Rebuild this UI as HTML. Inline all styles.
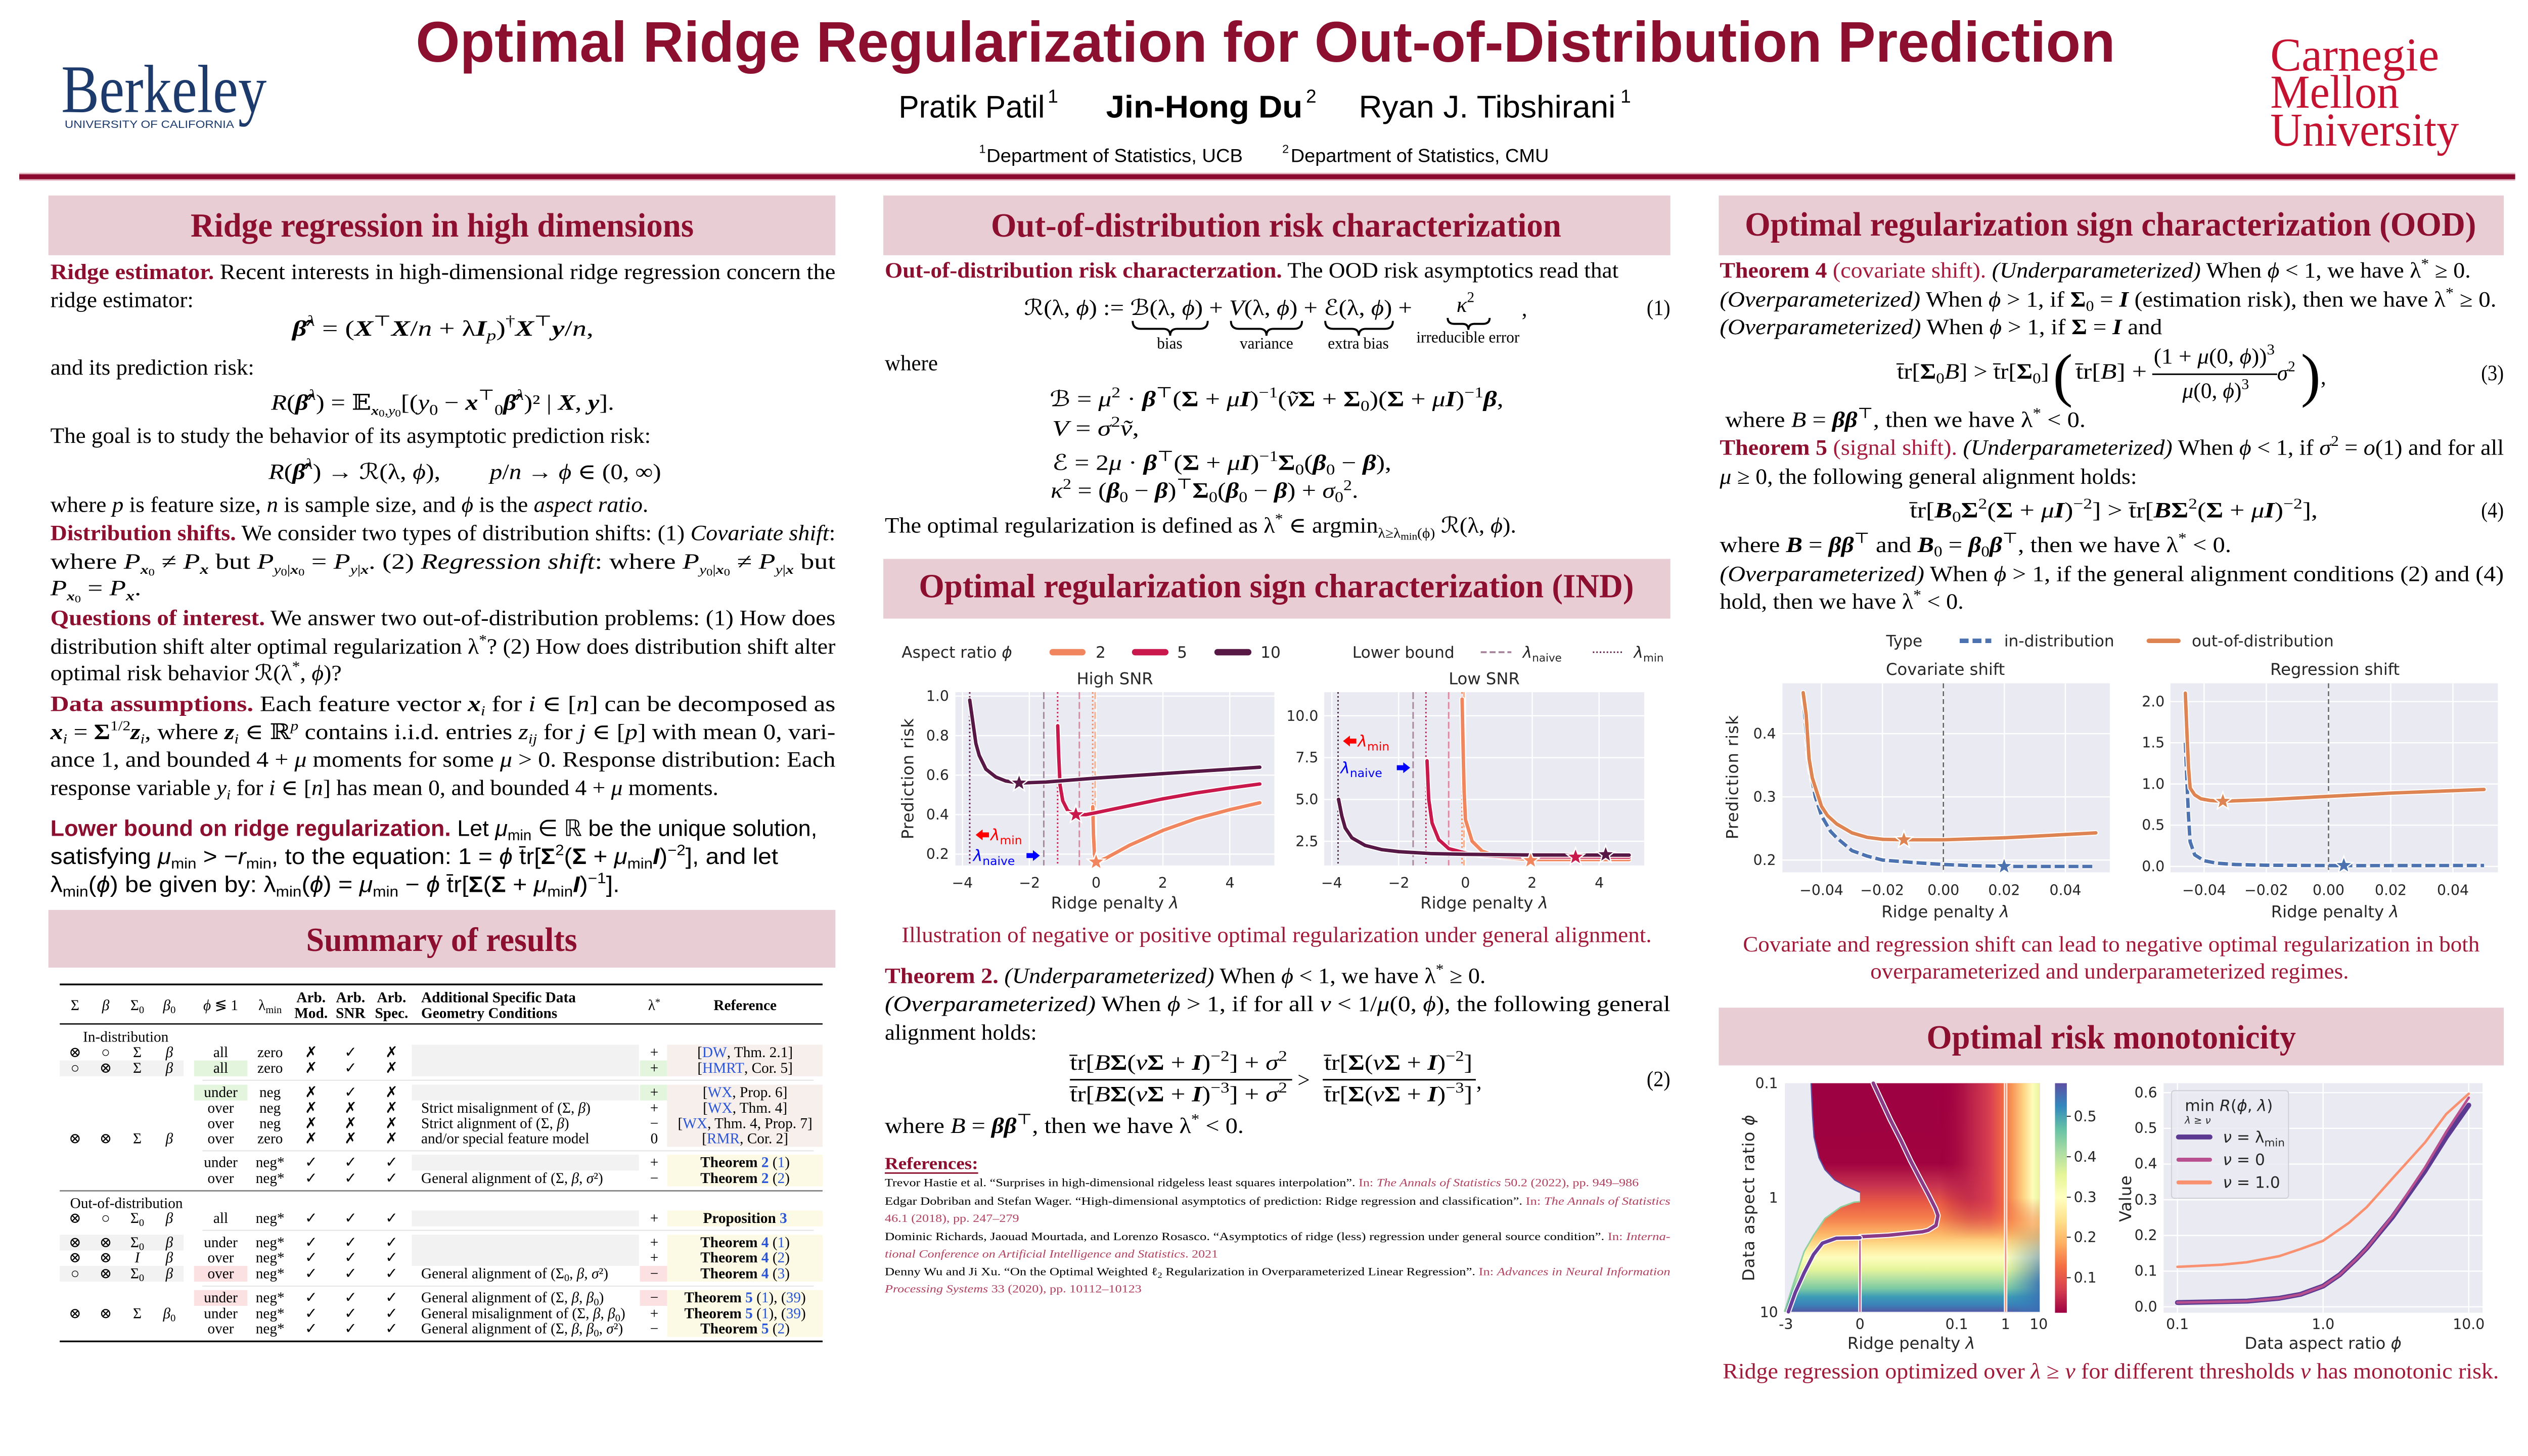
<!DOCTYPE html>
<html><head><meta charset="utf-8">
<style>
html,body{margin:0;padding:0;overflow:hidden;background:#fff;}
svg{display:block;width:100vw;height:56.25vw}
.t{font-family:"Liberation Serif","DejaVu Serif",serif;font-size:44px;fill:#000}
.ss{font-family:"Liberation Sans","DejaVu Sans",sans-serif;font-size:46px;fill:#000}
.dj{font-family:"DejaVu Sans",sans-serif;fill:#262626}
.rb{fill:#8c0f2f;font-weight:bold}
.rd{fill:#a51c3e}
.it{font-style:italic}
.bd{font-weight:bold}
.hd{font-family:"Liberation Serif","DejaVu Serif",serif;font-weight:bold;font-size:68px;fill:#8c0f2f}
.tb{font-family:"Liberation Serif","DejaVu Serif",serif;font-size:30px;fill:#000}
.m{text-anchor:middle}
.e{text-anchor:end}
.bl{fill:#2a55d8}
.rf{font-family:"Liberation Serif","DejaVu Serif",serif;font-size:23px;fill:#000}
.rp{fill:#b2405f}
.cap{font-family:"Liberation Serif","DejaVu Serif",serif;font-size:44px;fill:#a01a3a}
.tk{font-family:"DejaVu Sans",sans-serif;font-size:29px;fill:#262626}
.al{font-family:"DejaVu Sans",sans-serif;font-size:33px;fill:#262626}
</style></head><body>
<svg width="5120" height="2880" viewBox="0 0 5120 2880" preserveAspectRatio="none" xmlns="http://www.w3.org/2000/svg">
<defs>
<linearGradient id="hv" gradientUnits="userSpaceOnUse" x1="0" y1="2194" x2="0" y2="2659">
<stop offset="0" stop-color="#9e0142"/>
<stop offset="0.35" stop-color="#a0033f"/>
<stop offset="0.45" stop-color="#c83550"/>
<stop offset="0.52" stop-color="#e85a45"/>
<stop offset="0.59" stop-color="#f5804c"/>
<stop offset="0.665" stop-color="#fdbd6c"/>
<stop offset="0.72" stop-color="#fee89a"/>
<stop offset="0.76" stop-color="#fdfdbd"/>
<stop offset="0.81" stop-color="#e6f59b"/>
<stop offset="0.85" stop-color="#b5e2a1"/>
<stop offset="0.894" stop-color="#7dcaa4"/>
<stop offset="0.93" stop-color="#3d9cb6"/>
<stop offset="0.965" stop-color="#3a82b9"/>
<stop offset="1" stop-color="#5753a3"/>
</linearGradient>
<linearGradient id="hr" gradientUnits="userSpaceOnUse" x1="3930" y1="0" x2="4131" y2="0">
<stop offset="0" stop-color="#a0033f" stop-opacity="0"/>
<stop offset="0.3" stop-color="#c0284c" stop-opacity="0.8"/>
<stop offset="0.5" stop-color="#d94050"/>
<stop offset="0.64" stop-color="#f46d43"/>
<stop offset="0.73" stop-color="#f89a5a"/>
<stop offset="0.84" stop-color="#fdd585"/>
<stop offset="0.93" stop-color="#fefdba"/>
<stop offset="1" stop-color="#e9f59d"/>
</linearGradient>
<linearGradient id="mk" gradientUnits="userSpaceOnUse" x1="0" y1="2194" x2="0" y2="2659">
<stop offset="0" stop-color="#fff"/>
<stop offset="0.5" stop-color="#fff"/>
<stop offset="0.68" stop-color="#000"/>
</linearGradient>
<mask id="m1" maskUnits="userSpaceOnUse" x="3600" y="2190" width="540" height="480"><rect x="3600" y="2190" width="540" height="480" fill="url(#mk)"/></mask>
<linearGradient id="hb" gradientUnits="userSpaceOnUse" x1="4062" y1="0" x2="4131" y2="0">
<stop offset="0" stop-color="#3288bd" stop-opacity="0"/>
<stop offset="1" stop-color="#3a6fb5" stop-opacity="0.9"/>
</linearGradient>
<linearGradient id="mk2" gradientUnits="userSpaceOnUse" x1="0" y1="2480" x2="0" y2="2600">
<stop offset="0" stop-color="#000"/>
<stop offset="1" stop-color="#fff"/>
</linearGradient>
<mask id="m2" maskUnits="userSpaceOnUse" x="4060" y="2470" width="80" height="200"><rect x="4060" y="2470" width="80" height="200" fill="url(#mk2)"/></mask>
<linearGradient id="cb" gradientUnits="userSpaceOnUse" x1="0" y1="2659" x2="0" y2="2194">
<stop offset="0" stop-color="#9e0142"/>
<stop offset="0.1" stop-color="#d53e4f"/>
<stop offset="0.2" stop-color="#f46d43"/>
<stop offset="0.3" stop-color="#fdae61"/>
<stop offset="0.4" stop-color="#fee08b"/>
<stop offset="0.5" stop-color="#ffffbf"/>
<stop offset="0.6" stop-color="#e6f598"/>
<stop offset="0.7" stop-color="#abdda4"/>
<stop offset="0.8" stop-color="#66c2a5"/>
<stop offset="0.9" stop-color="#3288bd"/>
<stop offset="1" stop-color="#5e4fa2"/>
</linearGradient>
</defs>

<!-- ===== HEADER ===== -->
<text x="842" y="125" font-family="Liberation Sans, DejaVu Sans, sans-serif" font-weight="bold" font-size="116" fill="#8c0f2f" textLength="3442" lengthAdjust="spacingAndGlyphs">Optimal Ridge Regularization for Out-of-Distribution Prediction</text>
<g font-family="Liberation Sans, DejaVu Sans, sans-serif" fill="#000">
<text x="1820" y="238" font-size="64" textLength="296" lengthAdjust="spacingAndGlyphs">Pratik Patil</text>
<text x="2122" y="208" font-size="38">1</text>
<text x="2240" y="238" font-size="64" font-weight="bold" textLength="398" lengthAdjust="spacingAndGlyphs">Jin-Hong Du</text>
<text x="2645" y="208" font-size="38">2</text>
<text x="2752" y="238" font-size="64" textLength="520" lengthAdjust="spacingAndGlyphs">Ryan J. Tibshirani</text>
<text x="3282" y="208" font-size="38">1</text>
<text x="1983" y="310" font-size="24">1</text>
<text x="1998" y="328" font-size="38" textLength="519" lengthAdjust="spacingAndGlyphs">Department of Statistics, UCB</text>
<text x="2597" y="310" font-size="24">2</text>
<text x="2614" y="328" font-size="38" textLength="523" lengthAdjust="spacingAndGlyphs">Department of Statistics, CMU</text>
</g>
<text x="124" y="227" font-family="Liberation Serif, DejaVu Serif, serif" font-size="138" fill="#1c3a6c" textLength="416" lengthAdjust="spacingAndGlyphs">Berkeley</text>
<text x="131" y="259" font-family="Liberation Sans, DejaVu Sans, sans-serif" font-size="22" fill="#1c3a6c" textLength="343" lengthAdjust="spacingAndGlyphs">UNIVERSITY OF CALIFORNIA</text>
<g font-family="Liberation Serif, DejaVu Serif, serif" font-size="96" fill="#c41230">
<text x="4598" y="143" textLength="342" lengthAdjust="spacingAndGlyphs">Carnegie</text>
<text x="4598" y="218" textLength="261" lengthAdjust="spacingAndGlyphs">Mellon</text>
<text x="4598" y="295" textLength="382" lengthAdjust="spacingAndGlyphs">University</text>
</g>
<rect x="39" y="350" width="5055" height="16" fill="#e2b4c0"/>
<rect x="39" y="353" width="5055" height="10" fill="#8a0b2e"/>

<!-- ===== SECTION HEADERS ===== -->
<g fill="#e8cdd5">
<rect x="98" y="396" width="1594" height="121"/>
<rect x="98" y="1843" width="1594" height="117"/>
<rect x="1789" y="396" width="1594" height="121"/>
<rect x="1789" y="1132" width="1594" height="121"/>
<rect x="3481" y="396" width="1590" height="121"/>
<rect x="3481" y="2041" width="1590" height="117"/>
</g>
<text class="hd" x="386" y="479" textLength="1019" lengthAdjust="spacingAndGlyphs">Ridge regression in high dimensions</text>
<text class="hd" x="620" y="1926" textLength="549" lengthAdjust="spacingAndGlyphs">Summary of results</text>
<text class="hd" x="2007" y="479" textLength="1155" lengthAdjust="spacingAndGlyphs">Out-of-distribution risk characterization</text>
<text class="hd" x="1861" y="1210" textLength="1448" lengthAdjust="spacingAndGlyphs">Optimal regularization sign characterization (IND)</text>
<text class="hd" x="3534" y="477" textLength="1481" lengthAdjust="spacingAndGlyphs">Optimal regularization sign characterization (OOD)</text>
<text class="hd" x="3902" y="2124" textLength="748" lengthAdjust="spacingAndGlyphs">Optimal risk monotonicity</text>

<!-- ===== COLUMN 1 ===== -->
<text class="t" x="102" y="565" textLength="1590" lengthAdjust="spacingAndGlyphs"><tspan class="rb">Ridge estimator.</tspan> Recent interests in high-dimensional ridge regression concern the</text>
<text class="t" x="102" y="622" textLength="290" lengthAdjust="spacingAndGlyphs">ridge estimator:</text>
<text class="t" x="592" y="680" textLength="610" lengthAdjust="spacingAndGlyphs"><tspan class="it bd">β̂</tspan><tspan font-size="30" dy="-20" class="it">λ</tspan><tspan dy="20"> = (</tspan><tspan class="it bd">X</tspan><tspan font-size="30" dy="-20">⊤</tspan><tspan dy="20" class="it bd">X</tspan><tspan>/</tspan><tspan class="it">n</tspan><tspan> + λ</tspan><tspan class="it bd">I</tspan><tspan font-size="30" dy="9" class="it">p</tspan><tspan dy="-9">)</tspan><tspan font-size="30" dy="-20">†</tspan><tspan dy="20" class="it bd">X</tspan><tspan font-size="30" dy="-20">⊤</tspan><tspan dy="20" class="it bd">y</tspan><tspan>/</tspan><tspan class="it">n</tspan><tspan>,</tspan></text>
<text class="t" x="102" y="759" textLength="413" lengthAdjust="spacingAndGlyphs">and its prediction risk:</text>
<text class="t" x="549" y="830" textLength="695" lengthAdjust="spacingAndGlyphs"><tspan class="it">R</tspan><tspan>(</tspan><tspan class="it bd">β̂</tspan><tspan font-size="30" dy="-20" class="it">λ</tspan><tspan dy="20">) = 𝔼</tspan><tspan font-size="26" dy="10" class="it bd">x</tspan><tspan font-size="20" dy="4">0</tspan><tspan font-size="26" dy="-4" class="it">,y</tspan><tspan font-size="20" dy="4">0</tspan><tspan dy="-14">[(</tspan><tspan class="it">y</tspan><tspan font-size="30" dy="10">0</tspan><tspan dy="-10"> − </tspan><tspan class="it bd">x</tspan><tspan font-size="30" dy="-20">⊤</tspan><tspan font-size="30" dy="30">0</tspan><tspan dy="-10" class="it bd">β̂</tspan><tspan font-size="30" dy="-20" class="it">λ</tspan><tspan dy="20">)² | </tspan><tspan class="it bd">X</tspan><tspan>, </tspan><tspan class="it bd">y</tspan><tspan>].</tspan></text>
<text class="t" x="102" y="897" textLength="1216" lengthAdjust="spacingAndGlyphs">The goal is to study the behavior of its asymptotic prediction risk:</text>
<text class="t" x="544" y="970" textLength="348" lengthAdjust="spacingAndGlyphs"><tspan class="it">R</tspan><tspan>(</tspan><tspan class="it bd">β̂</tspan><tspan font-size="30" dy="-20" class="it">λ</tspan><tspan dy="20">) → ℛ(λ, </tspan><tspan class="it">ϕ</tspan><tspan>),</tspan></text>
<text class="t" x="992" y="970" textLength="347" lengthAdjust="spacingAndGlyphs"><tspan class="it">p</tspan><tspan>/</tspan><tspan class="it">n</tspan><tspan> → </tspan><tspan class="it">ϕ</tspan><tspan> ∈ (0, ∞)</tspan></text>
<text class="t" x="102" y="1037" textLength="1211" lengthAdjust="spacingAndGlyphs">where <tspan class="it">p</tspan> is feature size, <tspan class="it">n</tspan> is sample size, and <tspan class="it">ϕ</tspan> is the <tspan class="it">aspect ratio</tspan>.</text>
<text class="t" x="102" y="1094" textLength="1590" lengthAdjust="spacingAndGlyphs"><tspan class="rb">Distribution shifts.</tspan> We consider two types of distribution shifts: (1) <tspan class="it">Covariate shift</tspan>:</text>
<text class="t" x="102" y="1152" textLength="1590" lengthAdjust="spacingAndGlyphs">where <tspan class="it">P</tspan><tspan font-size="26" dy="10" class="it bd">x</tspan><tspan font-size="20" dy="4">0</tspan><tspan dy="-14"> ≠ </tspan><tspan class="it">P</tspan><tspan font-size="28" dy="10" class="it bd">x</tspan><tspan dy="-10"> but </tspan><tspan class="it">P</tspan><tspan font-size="26" dy="10" class="it">y</tspan><tspan font-size="20" dy="4">0</tspan><tspan font-size="26" dy="-4">|</tspan><tspan font-size="26" class="it bd">x</tspan><tspan font-size="20" dy="4">0</tspan><tspan dy="-14"> = </tspan><tspan class="it">P</tspan><tspan font-size="26" dy="10" class="it">y</tspan><tspan font-size="26">|</tspan><tspan font-size="26" class="it bd">x</tspan><tspan dy="-10">. (2) </tspan><tspan class="it">Regression shift</tspan><tspan>: where </tspan><tspan class="it">P</tspan><tspan font-size="26" dy="10" class="it">y</tspan><tspan font-size="20" dy="4">0</tspan><tspan font-size="26" dy="-4">|</tspan><tspan font-size="26" class="it bd">x</tspan><tspan font-size="20" dy="4">0</tspan><tspan dy="-14"> ≠ </tspan><tspan class="it">P</tspan><tspan font-size="26" dy="10" class="it">y</tspan><tspan font-size="26">|</tspan><tspan font-size="26" class="it bd">x</tspan><tspan dy="-10"> but</tspan></text>
<text class="t" x="102" y="1206" textLength="184" lengthAdjust="spacingAndGlyphs"><tspan class="it">P</tspan><tspan font-size="26" dy="10" class="it bd">x</tspan><tspan font-size="20" dy="4">0</tspan><tspan dy="-14"> = </tspan><tspan class="it">P</tspan><tspan font-size="28" dy="10" class="it bd">x</tspan><tspan dy="-10">.</tspan></text>
<text class="t" x="102" y="1266" textLength="1590" lengthAdjust="spacingAndGlyphs"><tspan class="rb">Questions of interest.</tspan> We answer two out-of-distribution problems: (1) How does</text>
<text class="t" x="102" y="1324" textLength="1590" lengthAdjust="spacingAndGlyphs">distribution shift alter optimal regularization λ<tspan font-size="30" dy="-18">*</tspan><tspan dy="18">? (2) How does distribution shift alter</tspan></text>
<text class="t" x="102" y="1378" textLength="590" lengthAdjust="spacingAndGlyphs">optimal risk behavior ℛ(λ<tspan font-size="30" dy="-18">*</tspan><tspan dy="18">, </tspan><tspan class="it">ϕ</tspan><tspan>)?</tspan></text>
<text class="t" x="102" y="1440" textLength="1590" lengthAdjust="spacingAndGlyphs"><tspan class="rb">Data assumptions.</tspan> Each feature vector <tspan class="it bd">x</tspan><tspan font-size="28" dy="9" class="it">i</tspan><tspan dy="-9"> for </tspan><tspan class="it">i</tspan><tspan> ∈ [</tspan><tspan class="it">n</tspan><tspan>] can be decomposed as</tspan></text>
<text class="t" x="102" y="1497" textLength="1590" lengthAdjust="spacingAndGlyphs"><tspan class="it bd">x</tspan><tspan font-size="28" dy="9" class="it">i</tspan><tspan dy="-9"> = </tspan><tspan class="bd">Σ</tspan><tspan font-size="28" dy="-18">1/2</tspan><tspan dy="18" class="it bd">z</tspan><tspan font-size="28" dy="9" class="it">i</tspan><tspan dy="-9">, where </tspan><tspan class="it bd">z</tspan><tspan font-size="28" dy="9" class="it">i</tspan><tspan dy="-9"> ∈ ℝ</tspan><tspan font-size="28" dy="-18" class="it">p</tspan><tspan dy="18"> contains i.i.d. entries </tspan><tspan class="it">z</tspan><tspan font-size="28" dy="9" class="it">ij</tspan><tspan dy="-9"> for </tspan><tspan class="it">j</tspan><tspan> ∈ [</tspan><tspan class="it">p</tspan><tspan>] with mean 0, vari-</tspan></text>
<text class="t" x="102" y="1553" textLength="1590" lengthAdjust="spacingAndGlyphs">ance 1, and bounded 4 + <tspan class="it">μ</tspan> moments for some <tspan class="it">μ</tspan> &gt; 0. Response distribution: Each</text>
<text class="t" x="102" y="1610" textLength="1353" lengthAdjust="spacingAndGlyphs">response variable <tspan class="it">y</tspan><tspan font-size="28" dy="9" class="it">i</tspan><tspan dy="-9"> for </tspan><tspan class="it">i</tspan><tspan> ∈ [</tspan><tspan class="it">n</tspan><tspan>] has mean 0, and bounded 4 + </tspan><tspan class="it">μ</tspan><tspan> moments.</tspan></text>
<text class="ss" x="102" y="1693" textLength="1553" lengthAdjust="spacingAndGlyphs"><tspan class="rb">Lower bound on ridge regularization.</tspan> Let <tspan class="it">μ</tspan><tspan font-size="30" dy="9">min</tspan><tspan dy="-9"> ∈ ℝ be the unique solution,</tspan></text>
<text class="ss" x="102" y="1750" textLength="1474" lengthAdjust="spacingAndGlyphs">satisfying <tspan class="it">μ</tspan><tspan font-size="30" dy="9">min</tspan><tspan dy="-9"> &gt; −</tspan><tspan class="it">r</tspan><tspan font-size="30" dy="9">min</tspan><tspan dy="-9">, to the equation: 1 = </tspan><tspan class="it">ϕ</tspan><tspan> t̄r[</tspan><tspan class="bd">Σ</tspan><tspan font-size="30" dy="-18">2</tspan><tspan dy="18">(</tspan><tspan class="bd">Σ</tspan><tspan> + </tspan><tspan class="it">μ</tspan><tspan font-size="30" dy="9">min</tspan><tspan dy="-9" class="it bd">I</tspan><tspan>)</tspan><tspan font-size="30" dy="-18">−2</tspan><tspan dy="18">], and let</tspan></text>
<text class="ss" x="102" y="1807" textLength="1153" lengthAdjust="spacingAndGlyphs">λ<tspan font-size="30" dy="9">min</tspan><tspan dy="-9">(</tspan><tspan class="it">ϕ</tspan><tspan>) be given by: λ</tspan><tspan font-size="30" dy="9">min</tspan><tspan dy="-9">(</tspan><tspan class="it">ϕ</tspan><tspan>) = </tspan><tspan class="it">μ</tspan><tspan font-size="30" dy="9">min</tspan><tspan dy="-9"> − </tspan><tspan class="it">ϕ</tspan><tspan> t̄r[</tspan><tspan class="bd">Σ</tspan><tspan>(</tspan><tspan class="bd">Σ</tspan><tspan> + </tspan><tspan class="it">μ</tspan><tspan font-size="30" dy="9">min</tspan><tspan dy="-9" class="it bd">I</tspan><tspan>)</tspan><tspan font-size="30" dy="-18">−1</tspan><tspan dy="18">].</tspan></text>

<!-- ===== TABLE ===== -->
<g>
<g fill="#f2f2f2">
<rect x="834" y="2116" width="460" height="64"/>
<rect x="834" y="2197" width="460" height="32"/>
<rect x="834" y="2339" width="460" height="32"/>
<rect x="834" y="2452" width="460" height="32"/>
<rect x="834" y="2501" width="460" height="63"/>
<rect x="121" y="2148" width="251" height="32"/>
<rect x="121" y="2501" width="251" height="32"/>
<rect x="121" y="2564" width="251" height="32"/>
</g>
<g fill="#f7efec">
<rect x="1351" y="2116" width="315" height="64"/>
<rect x="1351" y="2197" width="315" height="126"/>
</g>
<g fill="#fcfae4">
<rect x="1351" y="2339" width="315" height="64"/>
<rect x="1351" y="2452" width="315" height="32"/>
<rect x="1351" y="2501" width="315" height="95"/>
<rect x="1351" y="2613" width="315" height="95"/>
</g>
<g fill="#e3f6dd">
<rect x="393" y="2148" width="108" height="32"/>
<rect x="1296" y="2148" width="55" height="32"/>
<rect x="393" y="2197" width="108" height="32"/>
<rect x="1296" y="2197" width="55" height="32"/>
</g>
<g fill="#fbe1e1">
<rect x="393" y="2564" width="108" height="32"/>
<rect x="1296" y="2564" width="55" height="32"/>
<rect x="393" y="2613" width="108" height="32"/>
<rect x="1296" y="2613" width="55" height="32"/>
</g>
<line x1="121" y1="1994" x2="1666" y2="1994" stroke="#000" stroke-width="3.5"/>
<line x1="121" y1="2074" x2="1666" y2="2074" stroke="#000" stroke-width="2.5"/>
<line x1="121" y1="2412" x2="1666" y2="2412" stroke="#888" stroke-width="3"/>
<line x1="121" y1="2717" x2="1666" y2="2717" stroke="#000" stroke-width="3.5"/>
<g stroke="#e2e2e2" stroke-width="2">
<line x1="410" y1="2188" x2="1648" y2="2188"/>
<line x1="410" y1="2331" x2="1648" y2="2331"/>
<line x1="410" y1="2492" x2="1648" y2="2492"/>
<line x1="410" y1="2605" x2="1648" y2="2605"/>
</g>
<g class="tb">
<text class="tb m" x="152" y="2046">Σ</text>
<text class="tb m it" x="214" y="2046">β</text>
<text class="tb m" x="278" y="2046">Σ<tspan font-size="21" dy="6">0</tspan></text>
<text class="tb m it" x="343" y="2046">β<tspan font-size="21" dy="6" font-style="normal">0</tspan></text>
<text class="tb m" x="447" y="2046"><tspan class="it">ϕ</tspan> ≶ 1</text>
<text class="tb m" x="547" y="2046">λ<tspan font-size="21" dy="6">min</tspan></text>
<text class="tb m bd" x="630" y="2030">Arb.</text><text class="tb m bd" x="630" y="2062">Mod.</text>
<text class="tb m bd" x="710" y="2030">Arb.</text><text class="tb m bd" x="710" y="2062">SNR</text>
<text class="tb m bd" x="793" y="2030">Arb.</text><text class="tb m bd" x="793" y="2062">Spec.</text>
<text class="tb bd" x="853" y="2030">Additional Specific Data</text>
<text class="tb bd" x="853" y="2062">Geometry Conditions</text>
<text class="tb m" x="1325" y="2046">λ<tspan font-size="21" dy="-10">*</tspan></text>
<text class="tb m bd" x="1509" y="2046">Reference</text>
</g>
<text class="tb" x="168" y="2110">In-distribution</text>
<text class="tb" x="142" y="2447">Out-of-distribution</text>
<g class="tb">
<text class="tb m" x="152" y="2141">⊗</text><text class="tb m" x="214" y="2141">○</text><text class="tb m" x="278" y="2141">Σ</text><text class="tb m it" x="343" y="2141">β</text>
<text class="tb m" x="447" y="2141">all</text><text class="tb m" x="547" y="2141">zero</text>
<text class="tb m" x="630" y="2141">✗</text><text class="tb m" x="710" y="2141">✓</text><text class="tb m" x="793" y="2141">✗</text>
<text class="tb m" x="1325" y="2141">+</text><text class="tb m" x="1509" y="2141">[<tspan class="bl">DW</tspan>, Thm. 2.1]</text>
<text class="tb m" x="152" y="2173">○</text><text class="tb m" x="214" y="2173">⊗</text><text class="tb m" x="278" y="2173">Σ</text><text class="tb m it" x="343" y="2173">β</text>
<text class="tb m" x="447" y="2173">all</text><text class="tb m" x="547" y="2173">zero</text>
<text class="tb m" x="630" y="2173">✗</text><text class="tb m" x="710" y="2173">✓</text><text class="tb m" x="793" y="2173">✗</text>
<text class="tb m" x="1325" y="2173">+</text><text class="tb m" x="1509" y="2173">[<tspan class="bl">HMRT</tspan>, Cor. 5]</text>
<text class="tb m" x="447" y="2222">under</text><text class="tb m" x="547" y="2222">neg</text>
<text class="tb m" x="630" y="2222">✗</text><text class="tb m" x="710" y="2222">✓</text><text class="tb m" x="793" y="2222">✗</text>
<text class="tb m" x="1325" y="2222">+</text><text class="tb m" x="1509" y="2222">[<tspan class="bl">WX</tspan>, Prop. 6]</text>
<text class="tb m" x="447" y="2254">over</text><text class="tb m" x="547" y="2254">neg</text>
<text class="tb m" x="630" y="2254">✗</text><text class="tb m" x="710" y="2254">✗</text><text class="tb m" x="793" y="2254">✗</text>
<text class="tb" x="853" y="2254">Strict misalignment of (Σ, <tspan class="it">β</tspan>)</text>
<text class="tb m" x="1325" y="2254">+</text><text class="tb m" x="1509" y="2254">[<tspan class="bl">WX</tspan>, Thm. 4]</text>
<text class="tb m" x="447" y="2285">over</text><text class="tb m" x="547" y="2285">neg</text>
<text class="tb m" x="630" y="2285">✗</text><text class="tb m" x="710" y="2285">✗</text><text class="tb m" x="793" y="2285">✗</text>
<text class="tb" x="853" y="2285">Strict alignment of (Σ, <tspan class="it">β</tspan>)</text>
<text class="tb m" x="1325" y="2285">−</text><text class="tb m" x="1509" y="2285">[<tspan class="bl">WX</tspan>, Thm. 4, Prop. 7]</text>
<text class="tb m" x="152" y="2316">⊗</text><text class="tb m" x="214" y="2316">⊗</text><text class="tb m" x="278" y="2316">Σ</text><text class="tb m it" x="343" y="2316">β</text>
<text class="tb m" x="447" y="2316">over</text><text class="tb m" x="547" y="2316">zero</text>
<text class="tb m" x="630" y="2316">✗</text><text class="tb m" x="710" y="2316">✗</text><text class="tb m" x="793" y="2316">✗</text>
<text class="tb" x="853" y="2316">and/or special feature model</text>
<text class="tb m" x="1325" y="2316">0</text><text class="tb m" x="1509" y="2316">[<tspan class="bl">RMR</tspan>, Cor. 2]</text>
<text class="tb m" x="447" y="2364">under</text><text class="tb m" x="547" y="2364">neg*</text>
<text class="tb m" x="630" y="2364">✓</text><text class="tb m" x="710" y="2364">✓</text><text class="tb m" x="793" y="2364">✓</text>
<text class="tb m" x="1325" y="2364">+</text><text class="tb m" x="1509" y="2364"><tspan class="bd">Theorem </tspan><tspan class="bl bd">2</tspan> (<tspan class="bl">1</tspan>)</text>
<text class="tb m" x="447" y="2396">over</text><text class="tb m" x="547" y="2396">neg*</text>
<text class="tb m" x="630" y="2396">✓</text><text class="tb m" x="710" y="2396">✓</text><text class="tb m" x="793" y="2396">✓</text>
<text class="tb" x="853" y="2396">General alignment of (Σ, <tspan class="it">β</tspan>, <tspan class="it">σ</tspan>²)</text>
<text class="tb m" x="1325" y="2396">−</text><text class="tb m" x="1509" y="2396"><tspan class="bd">Theorem </tspan><tspan class="bl bd">2</tspan> (<tspan class="bl">2</tspan>)</text>
<text class="tb m" x="152" y="2477">⊗</text><text class="tb m" x="214" y="2477">○</text><text class="tb m" x="278" y="2477">Σ<tspan font-size="21" dy="6">0</tspan></text><text class="tb m it" x="343" y="2477">β</text>
<text class="tb m" x="447" y="2477">all</text><text class="tb m" x="547" y="2477">neg*</text>
<text class="tb m" x="630" y="2477">✓</text><text class="tb m" x="710" y="2477">✓</text><text class="tb m" x="793" y="2477">✓</text>
<text class="tb m" x="1325" y="2477">+</text><text class="tb m" x="1509" y="2477"><tspan class="bd">Proposition </tspan><tspan class="bl bd">3</tspan></text>
<text class="tb m" x="152" y="2526">⊗</text><text class="tb m" x="214" y="2526">⊗</text><text class="tb m" x="278" y="2526">Σ<tspan font-size="21" dy="6">0</tspan></text><text class="tb m it" x="343" y="2526">β</text>
<text class="tb m" x="447" y="2526">under</text><text class="tb m" x="547" y="2526">neg*</text>
<text class="tb m" x="630" y="2526">✓</text><text class="tb m" x="710" y="2526">✓</text><text class="tb m" x="793" y="2526">✓</text>
<text class="tb m" x="1325" y="2526">+</text><text class="tb m" x="1509" y="2526"><tspan class="bd">Theorem </tspan><tspan class="bl bd">4</tspan> (<tspan class="bl">1</tspan>)</text>
<text class="tb m" x="152" y="2557">⊗</text><text class="tb m" x="214" y="2557">⊗</text><text class="tb m it" x="278" y="2557">I</text><text class="tb m it" x="343" y="2557">β</text>
<text class="tb m" x="447" y="2557">over</text><text class="tb m" x="547" y="2557">neg*</text>
<text class="tb m" x="630" y="2557">✓</text><text class="tb m" x="710" y="2557">✓</text><text class="tb m" x="793" y="2557">✓</text>
<text class="tb m" x="1325" y="2557">+</text><text class="tb m" x="1509" y="2557"><tspan class="bd">Theorem </tspan><tspan class="bl bd">4</tspan> (<tspan class="bl">2</tspan>)</text>
<text class="tb m" x="152" y="2589">○</text><text class="tb m" x="214" y="2589">⊗</text><text class="tb m" x="278" y="2589">Σ<tspan font-size="21" dy="6">0</tspan></text><text class="tb m it" x="343" y="2589">β</text>
<text class="tb m" x="447" y="2589">over</text><text class="tb m" x="547" y="2589">neg*</text>
<text class="tb m" x="630" y="2589">✓</text><text class="tb m" x="710" y="2589">✓</text><text class="tb m" x="793" y="2589">✓</text>
<text class="tb" x="853" y="2589">General alignment of (Σ<tspan font-size="21" dy="6">0</tspan><tspan dy="-6">, </tspan><tspan class="it">β</tspan>, <tspan class="it">σ</tspan>²)</text>
<text class="tb m" x="1325" y="2589">−</text><text class="tb m" x="1509" y="2589"><tspan class="bd">Theorem </tspan><tspan class="bl bd">4</tspan> (<tspan class="bl">3</tspan>)</text>
<text class="tb m" x="447" y="2638">under</text><text class="tb m" x="547" y="2638">neg*</text>
<text class="tb m" x="630" y="2638">✓</text><text class="tb m" x="710" y="2638">✓</text><text class="tb m" x="793" y="2638">✓</text>
<text class="tb" x="853" y="2638">General alignment of (Σ, <tspan class="it">β</tspan>, <tspan class="it">β</tspan><tspan font-size="21" dy="6">0</tspan><tspan dy="-6">)</tspan></text>
<text class="tb m" x="1325" y="2638">−</text><text class="tb m" x="1509" y="2638"><tspan class="bd">Theorem </tspan><tspan class="bl bd">5</tspan> (<tspan class="bl">1</tspan>), (<tspan class="bl">39</tspan>)</text>
<text class="tb m" x="152" y="2670">⊗</text><text class="tb m" x="214" y="2670">⊗</text><text class="tb m" x="278" y="2670">Σ</text><text class="tb m it" x="343" y="2670">β<tspan font-size="21" dy="6" font-style="normal">0</tspan></text>
<text class="tb m" x="447" y="2670">under</text><text class="tb m" x="547" y="2670">neg*</text>
<text class="tb m" x="630" y="2670">✓</text><text class="tb m" x="710" y="2670">✓</text><text class="tb m" x="793" y="2670">✓</text>
<text class="tb" x="853" y="2670">General misalignment of (Σ, <tspan class="it">β</tspan>, <tspan class="it">β</tspan><tspan font-size="21" dy="6">0</tspan><tspan dy="-6">)</tspan></text>
<text class="tb m" x="1325" y="2670">+</text><text class="tb m" x="1509" y="2670"><tspan class="bd">Theorem </tspan><tspan class="bl bd">5</tspan> (<tspan class="bl">1</tspan>), (<tspan class="bl">39</tspan>)</text>
<text class="tb m" x="447" y="2701">over</text><text class="tb m" x="547" y="2701">neg*</text>
<text class="tb m" x="630" y="2701">✓</text><text class="tb m" x="710" y="2701">✓</text><text class="tb m" x="793" y="2701">✓</text>
<text class="tb" x="853" y="2701">General alignment of (Σ, <tspan class="it">β</tspan>, <tspan class="it">β</tspan><tspan font-size="21" dy="6">0</tspan><tspan dy="-6">, </tspan><tspan class="it">σ</tspan>²)</text>
<text class="tb m" x="1325" y="2701">−</text><text class="tb m" x="1509" y="2701"><tspan class="bd">Theorem </tspan><tspan class="bl bd">5</tspan> (<tspan class="bl">2</tspan>)</text>
</g>
</g>

<!-- ===== COLUMN 2 ===== -->
<text class="t" x="1792" y="562" textLength="1486" lengthAdjust="spacingAndGlyphs"><tspan class="rb">Out-of-distribution risk characterzation.</tspan> The OOD risk asymptotics read that</text>
<text class="t" x="2074" y="638" textLength="786" lengthAdjust="spacingAndGlyphs">ℛ(λ, <tspan class="it">ϕ</tspan>) := ℬ(λ, <tspan class="it">ϕ</tspan>) + <tspan class="it">V</tspan>(λ, <tspan class="it">ϕ</tspan>) + ℰ(λ, <tspan class="it">ϕ</tspan>) +</text>
<text class="t" x="2950" y="632"><tspan class="it">κ</tspan><tspan font-size="30" dy="-20">2</tspan></text>
<text class="t" x="3082" y="640">,</text>
<text class="t" x="3335" y="638" textLength="48" lengthAdjust="spacingAndGlyphs">(1)</text>
<g fill="none" stroke="#000" stroke-width="4">
<path d="M2294,650 Q2294,666 2310,666 L2356,666 Q2370,666 2370,680 Q2370,666 2384,666 L2430,666 Q2446,666 2446,650"/>
<path d="M2493,650 Q2493,666 2509,666 L2551,666 Q2565,666 2565,680 Q2565,666 2579,666 L2621,666 Q2637,666 2637,650"/>
<path d="M2684,650 Q2684,666 2700,666 L2738,666 Q2752,666 2752,680 Q2752,666 2766,666 L2805,666 Q2821,666 2821,650"/>
<path d="M2932,644 Q2932,656 2946,656 L2962,656 Q2974,656 2974,668 Q2974,656 2986,656 L3003,656 Q3017,656 3017,644"/>
</g>
<g font-family="Liberation Serif, DejaVu Serif, serif" font-size="32" text-anchor="middle">
<text x="2369" y="706">bias</text>
<text x="2565" y="706">variance</text>
<text x="2751" y="706">extra bias</text>
<text x="2973" y="694">irreducible error</text>
</g>
<text class="t" x="1792" y="750">where</text>
<text class="t" x="2126" y="823" textLength="919" lengthAdjust="spacingAndGlyphs">ℬ = <tspan class="it">μ</tspan><tspan font-size="30" dy="-18">2</tspan><tspan dy="18"> · </tspan><tspan class="it bd">β</tspan><tspan font-size="30" dy="-18">⊤</tspan><tspan dy="18">(</tspan><tspan class="bd">Σ</tspan><tspan> + </tspan><tspan class="it">μ</tspan><tspan class="it bd">I</tspan><tspan>)</tspan><tspan font-size="30" dy="-18">−1</tspan><tspan dy="18">(</tspan><tspan class="it">ṽ</tspan><tspan class="bd">Σ</tspan><tspan> + </tspan><tspan class="bd">Σ</tspan><tspan font-size="30" dy="9">0</tspan><tspan dy="-9">)(</tspan><tspan class="bd">Σ</tspan><tspan> + </tspan><tspan class="it">μ</tspan><tspan class="it bd">I</tspan><tspan>)</tspan><tspan font-size="30" dy="-18">−1</tspan><tspan dy="18" class="it bd">β</tspan><tspan>,</tspan></text>
<text class="t" x="2131" y="882" textLength="176" lengthAdjust="spacingAndGlyphs"><tspan class="it">V</tspan> = <tspan class="it">σ</tspan><tspan font-size="30" dy="-18">2</tspan><tspan dy="18" class="it">ṽ</tspan><tspan>,</tspan></text>
<text class="t" x="2131" y="952" textLength="687" lengthAdjust="spacingAndGlyphs">ℰ = 2<tspan class="it">μ</tspan> · <tspan class="it bd">β</tspan><tspan font-size="30" dy="-18">⊤</tspan><tspan dy="18">(</tspan><tspan class="bd">Σ</tspan><tspan> + </tspan><tspan class="it">μ</tspan><tspan class="it bd">I</tspan><tspan>)</tspan><tspan font-size="30" dy="-18">−1</tspan><tspan dy="18" class="bd">Σ</tspan><tspan font-size="30" dy="9">0</tspan><tspan dy="-9">(</tspan><tspan class="it bd">β</tspan><tspan font-size="30" dy="9">0</tspan><tspan dy="-9"> − </tspan><tspan class="it bd">β</tspan><tspan>),</tspan></text>
<text class="t" x="2128" y="1008" textLength="623" lengthAdjust="spacingAndGlyphs"><tspan class="it">κ</tspan><tspan font-size="30" dy="-18">2</tspan><tspan dy="18"> = (</tspan><tspan class="it bd">β</tspan><tspan font-size="30" dy="9">0</tspan><tspan dy="-9"> − </tspan><tspan class="it bd">β</tspan><tspan>)</tspan><tspan font-size="30" dy="-18">⊤</tspan><tspan dy="18" class="bd">Σ</tspan><tspan font-size="30" dy="9">0</tspan><tspan dy="-9">(</tspan><tspan class="it bd">β</tspan><tspan font-size="30" dy="9">0</tspan><tspan dy="-9"> − </tspan><tspan class="it bd">β</tspan><tspan>) + </tspan><tspan class="it">σ</tspan><tspan font-size="30" dy="9">0</tspan><tspan font-size="30" dy="-24">2</tspan><tspan dy="15">.</tspan></text>
<text class="t" x="1792" y="1079" textLength="1279" lengthAdjust="spacingAndGlyphs">The optimal regularization is defined as λ<tspan font-size="30" dy="-18">*</tspan><tspan dy="18"> ∈ argmin</tspan><tspan font-size="28" dy="10">λ≥λ</tspan><tspan font-size="20" dy="4">min</tspan><tspan font-size="28" dy="-4">(ϕ)</tspan><tspan dy="-10"> ℛ(λ, </tspan><tspan class="it">ϕ</tspan><tspan>).</tspan></text>

<!-- IND chart -->
<g>
<text class="dj" x="1826" y="1332" font-size="32">Aspect ratio <tspan font-style="italic">ϕ</tspan></text>
<line x1="2132" y1="1321" x2="2192" y2="1321" stroke="#f0855e" stroke-width="13" stroke-linecap="round"/>
<text class="dj" x="2219" y="1332" font-size="32">2</text>
<line x1="2299" y1="1321" x2="2360" y2="1321" stroke="#c8184c" stroke-width="13" stroke-linecap="round"/>
<text class="dj" x="2384" y="1332" font-size="32">5</text>
<line x1="2466" y1="1321" x2="2528" y2="1321" stroke="#571846" stroke-width="13" stroke-linecap="round"/>
<text class="dj" x="2553" y="1332" font-size="32">10</text>
<text class="dj" x="2739" y="1332" font-size="32">Lower bound</text>
<line x1="2999" y1="1321" x2="3061" y2="1321" stroke="#a8879f" stroke-width="4" stroke-dasharray="12,6"/>
<text class="dj" x="3084" y="1332" font-size="32" font-style="italic">λ<tspan font-size="22" dy="8" font-style="normal">naive</tspan></text>
<line x1="3226" y1="1321" x2="3288" y2="1321" stroke="#571846" stroke-width="3" stroke-dasharray="3,4"/>
<text class="dj" x="3309" y="1332" font-size="32" font-style="italic">λ<tspan font-size="22" dy="8" font-style="normal">min</tspan></text>
<text class="al m" x="2258" y="1386">High SNR</text>
<text class="al m" x="3006" y="1386">Low SNR</text>
<rect x="1935" y="1402" width="646" height="351" fill="#eaeaf2"/>
<g stroke="#fff" stroke-width="2.5">
<line x1="1949.4" y1="1402" x2="1949.4" y2="1753"/><line x1="2084.7" y1="1402" x2="2084.7" y2="1753"/><line x1="2220" y1="1402" x2="2220" y2="1753"/><line x1="2355.3" y1="1402" x2="2355.3" y2="1753"/><line x1="2490.6" y1="1402" x2="2490.6" y2="1753"/>
<line x1="1935" y1="1410" x2="2581" y2="1410"/><line x1="1935" y1="1490" x2="2581" y2="1490"/><line x1="1935" y1="1570" x2="2581" y2="1570"/><line x1="1935" y1="1650" x2="2581" y2="1650"/><line x1="1935" y1="1730" x2="2581" y2="1730"/>
</g>
<g stroke-width="3">
<line x1="1964" y1="1402" x2="1964" y2="1753" stroke="#571846" stroke-dasharray="3,5"/>
<line x1="2114" y1="1402" x2="2114" y2="1753" stroke="#a8879f" stroke-dasharray="14,6"/>
<line x1="2142" y1="1402" x2="2142" y2="1753" stroke="#c8184c" stroke-dasharray="3,5"/>
<line x1="2186" y1="1402" x2="2186" y2="1753" stroke="#e287a0" stroke-dasharray="14,6"/>
<line x1="2213" y1="1402" x2="2213" y2="1753" stroke="#f0855e" stroke-dasharray="3,5"/>
<line x1="2218" y1="1402" x2="2218" y2="1753" stroke="#f4b090" stroke-dasharray="14,6"/>
</g>
<g fill="none" stroke-linejoin="round" stroke-linecap="round">
<polyline points="2213.2,1634 2214.6,1690 2216.6,1730 2220,1746 2240.3,1738 2287.7,1712 2355.3,1682 2423,1658 2490.6,1640 2551.5,1626" stroke="#fff" stroke-width="11"/>
<polyline points="2213.2,1634 2214.6,1690 2216.6,1730 2220,1746 2240.3,1738 2287.7,1712 2355.3,1682 2423,1658 2490.6,1640 2551.5,1626" stroke="#f0855e" stroke-width="7"/>
<polyline points="2142.2,1470 2144.2,1530 2146.9,1590 2152.4,1622 2162.5,1642 2179.4,1650 2199.7,1650 2220,1646 2287.7,1632 2355.3,1618 2423,1606 2490.6,1596 2551.5,1588" stroke="#fff" stroke-width="11"/>
<polyline points="2142.2,1470 2144.2,1530 2146.9,1590 2152.4,1622 2162.5,1642 2179.4,1650 2199.7,1650 2220,1646 2287.7,1632 2355.3,1618 2423,1606 2490.6,1596 2551.5,1588" stroke="#c8184c" stroke-width="7"/>
<polyline points="1964,1418 1969.7,1458 1976.5,1506 1983.2,1530 1996.8,1558 2017,1574 2037.3,1582 2064.4,1586 2118.5,1584 2220,1576 2355.3,1567 2490.6,1558 2551.5,1554" stroke="#fff" stroke-width="11"/>
<polyline points="1964,1418 1969.7,1458 1976.5,1506 1983.2,1530 1996.8,1558 2017,1574 2037.3,1582 2064.4,1586 2118.5,1584 2220,1576 2355.3,1567 2490.6,1558 2551.5,1554" stroke="#571846" stroke-width="7"/>
</g>
<g stroke="#fff" stroke-width="2.5">
<path transform="translate(2064,1586) scale(1.05)" fill="#571846" d="M0,-18 L4.41,-6.07 L17.12,-5.56 L7.13,2.32 L10.58,14.56 L0,7.5 L-10.58,14.56 L-7.13,2.32 L-17.12,-5.56 L-4.41,-6.07 Z"/>
<path transform="translate(2179,1650) scale(1.05)" fill="#c8184c" d="M0,-18 L4.41,-6.07 L17.12,-5.56 L7.13,2.32 L10.58,14.56 L0,7.5 L-10.58,14.56 L-7.13,2.32 L-17.12,-5.56 L-4.41,-6.07 Z"/>
<path transform="translate(2220,1746) scale(1.05)" fill="#f0855e" d="M0,-18 L4.41,-6.07 L17.12,-5.56 L7.13,2.32 L10.58,14.56 L0,7.5 L-10.58,14.56 L-7.13,2.32 L-17.12,-5.56 L-4.41,-6.07 Z"/>
</g>
<path d="M1976,1691 L1990,1680 L1990,1686 L2003,1686 L2003,1696 L1990,1696 L1990,1702 Z" fill="#ff0000"/>
<text class="dj" x="2006" y="1702" font-size="32" style="fill:#ff0000" font-style="italic">λ<tspan font-size="24" dy="8" font-style="normal">min</tspan></text>
<text class="dj" x="1971" y="1744" font-size="32" style="fill:#0000ff" font-style="italic">λ<tspan font-size="24" dy="8" font-style="normal">naive</tspan></text>
<path d="M2106,1733 L2092,1722 L2092,1728 L2079,1728 L2079,1738 L2092,1738 L2092,1744 Z" fill="#0000ff"/>
<g class="tk">
<text class="tk e" x="1922" y="1420">1.0</text><text class="tk e" x="1922" y="1500">0.8</text><text class="tk e" x="1922" y="1580">0.6</text><text class="tk e" x="1922" y="1660">0.4</text><text class="tk e" x="1922" y="1740">0.2</text>
<text class="tk m" x="1949" y="1798">−4</text><text class="tk m" x="2085" y="1798">−2</text><text class="tk m" x="2220" y="1798">0</text><text class="tk m" x="2355" y="1798">2</text><text class="tk m" x="2491" y="1798">4</text>
</g>
<text class="al m" x="2258" y="1840">Ridge penalty <tspan font-style="italic">λ</tspan></text>
<text class="al" transform="translate(1850,1700) rotate(-90)" x="0" y="0" font-size="34" textLength="245" lengthAdjust="spacing">Prediction risk</text>
<rect x="2682" y="1402" width="648" height="351" fill="#eaeaf2"/>
<g stroke="#fff" stroke-width="2.5">
<line x1="2697.4" y1="1402" x2="2697.4" y2="1753"/><line x1="2832.7" y1="1402" x2="2832.7" y2="1753"/><line x1="2968" y1="1402" x2="2968" y2="1753"/><line x1="3103.3" y1="1402" x2="3103.3" y2="1753"/><line x1="3238.6" y1="1402" x2="3238.6" y2="1753"/>
<line x1="2682" y1="1449.8" x2="3330" y2="1449.8"/><line x1="2682" y1="1534.5" x2="3330" y2="1534.5"/><line x1="2682" y1="1619.3" x2="3330" y2="1619.3"/><line x1="2682" y1="1704" x2="3330" y2="1704"/>
</g>
<g stroke-width="3">
<line x1="2710" y1="1402" x2="2710" y2="1753" stroke="#571846" stroke-dasharray="3,5"/>
<line x1="2862" y1="1402" x2="2862" y2="1753" stroke="#a8879f" stroke-dasharray="14,6"/>
<line x1="2888" y1="1402" x2="2888" y2="1753" stroke="#c8184c" stroke-dasharray="3,5"/>
<line x1="2934" y1="1402" x2="2934" y2="1753" stroke="#e287a0" stroke-dasharray="14,6"/>
<line x1="2961" y1="1402" x2="2961" y2="1753" stroke="#f0855e" stroke-dasharray="3,5"/>
<line x1="2965" y1="1402" x2="2965" y2="1753" stroke="#f4b090" stroke-dasharray="14,6"/>
</g>
<g fill="none" stroke-linejoin="round" stroke-linecap="round">
<polyline points="2961.2,1416 2963.3,1517.6 2965.3,1602 2968,1660 2981.5,1704 3001.8,1724 3035.7,1736 3103.3,1741 3299.5,1741" stroke="#fff" stroke-width="11"/>
<polyline points="2961.2,1416 2963.3,1517.6 2965.3,1602 2968,1660 2981.5,1704 3001.8,1724 3035.7,1736 3103.3,1741 3299.5,1741" stroke="#f0855e" stroke-width="7"/>
<polyline points="2890.2,1541 2893.6,1619 2900.4,1667 2913.9,1700.6 2934.2,1719 2968,1727.7 3001.8,1732.8 3069.5,1735.5 3299.5,1736" stroke="#fff" stroke-width="11"/>
<polyline points="2890.2,1541 2893.6,1619 2900.4,1667 2913.9,1700.6 2934.2,1719 2968,1727.7 3001.8,1732.8 3069.5,1735.5 3299.5,1736" stroke="#c8184c" stroke-width="7"/>
<polyline points="2710.9,1619 2717.7,1653 2724.5,1677 2738,1697 2765,1712.5 2798.9,1721 2832.7,1725 2900.4,1729 2968,1730.4 3103.3,1731.8 3299.5,1732" stroke="#fff" stroke-width="11"/>
<polyline points="2710.9,1619 2717.7,1653 2724.5,1677 2738,1697 2765,1712.5 2798.9,1721 2832.7,1725 2900.4,1729 2968,1730.4 3103.3,1731.8 3299.5,1732" stroke="#571846" stroke-width="7"/>
</g>
<g stroke="#fff" stroke-width="2.5">
<path transform="translate(3100,1743) scale(1.05)" fill="#f0855e" d="M0,-18 L4.41,-6.07 L17.12,-5.56 L7.13,2.32 L10.58,14.56 L0,7.5 L-10.58,14.56 L-7.13,2.32 L-17.12,-5.56 L-4.41,-6.07 Z"/>
<path transform="translate(3191,1736) scale(1.05)" fill="#c8184c" d="M0,-18 L4.41,-6.07 L17.12,-5.56 L7.13,2.32 L10.58,14.56 L0,7.5 L-10.58,14.56 L-7.13,2.32 L-17.12,-5.56 L-4.41,-6.07 Z"/>
<path transform="translate(3252,1731) scale(1.05)" fill="#571846" d="M0,-18 L4.41,-6.07 L17.12,-5.56 L7.13,2.32 L10.58,14.56 L0,7.5 L-10.58,14.56 L-7.13,2.32 L-17.12,-5.56 L-4.41,-6.07 Z"/>
</g>
<path d="M2720,1501 L2734,1490 L2734,1496 L2747,1496 L2747,1506 L2734,1506 L2734,1512 Z" fill="#ff0000"/>
<text class="dj" x="2750" y="1512" font-size="32" style="fill:#ff0000" font-style="italic">λ<tspan font-size="24" dy="8" font-style="normal">min</tspan></text>
<text class="dj" x="2715" y="1566" font-size="32" style="fill:#0000ff" font-style="italic">λ<tspan font-size="24" dy="8" font-style="normal">naive</tspan></text>
<path d="M2856,1555 L2842,1544 L2842,1550 L2829,1550 L2829,1560 L2842,1560 L2842,1566 Z" fill="#0000ff"/>
<g class="tk">
<text class="tk e" x="2670" y="1460">10.0</text><text class="tk e" x="2670" y="1544">7.5</text><text class="tk e" x="2670" y="1629">5.0</text><text class="tk e" x="2670" y="1714">2.5</text>
<text class="tk m" x="2697" y="1798">−4</text><text class="tk m" x="2833" y="1798">−2</text><text class="tk m" x="2968" y="1798">0</text><text class="tk m" x="3103" y="1798">2</text><text class="tk m" x="3239" y="1798">4</text>
</g>
<text class="al m" x="3006" y="1840">Ridge penalty <tspan font-style="italic">λ</tspan></text>
</g>
<text class="cap" x="1826" y="1908" textLength="1519" lengthAdjust="spacingAndGlyphs">Illustration of negative or positive optimal regularization under general alignment.</text>

<!-- Theorem 2 -->
<text class="t" x="1792" y="1991" textLength="1217" lengthAdjust="spacingAndGlyphs"><tspan class="rb">Theorem 2.</tspan> <tspan class="it">(Underparameterized)</tspan> When <tspan class="it">ϕ</tspan> &lt; 1, we have λ<tspan font-size="30" dy="-18">*</tspan><tspan dy="18"> ≥ 0.</tspan></text>
<text class="t" x="1792" y="2048" textLength="1591" lengthAdjust="spacingAndGlyphs"><tspan class="it">(Overparameterized)</tspan> When <tspan class="it">ϕ</tspan> &gt; 1, if for all <tspan class="it">v</tspan> &lt; 1/<tspan class="it">μ</tspan>(0, <tspan class="it">ϕ</tspan>), the following general</text>
<text class="t" x="1792" y="2106" textLength="308" lengthAdjust="spacingAndGlyphs">alignment holds:</text>
<text class="t" x="2167" y="2167" textLength="440" lengthAdjust="spacingAndGlyphs">t̄r[<tspan class="it">B</tspan><tspan class="bd">Σ</tspan><tspan>(</tspan><tspan class="it">v</tspan><tspan class="bd">Σ</tspan><tspan> + </tspan><tspan class="it bd">I</tspan><tspan>)</tspan><tspan font-size="30" dy="-18">−2</tspan><tspan dy="18">] + </tspan><tspan class="it">σ</tspan><tspan font-size="30" dy="-18">2</tspan></text>
<text class="t" x="2167" y="2231" textLength="440" lengthAdjust="spacingAndGlyphs">t̄r[<tspan class="it">B</tspan><tspan class="bd">Σ</tspan><tspan>(</tspan><tspan class="it">v</tspan><tspan class="bd">Σ</tspan><tspan> + </tspan><tspan class="it bd">I</tspan><tspan>)</tspan><tspan font-size="30" dy="-18">−3</tspan><tspan dy="18">] + </tspan><tspan class="it">σ</tspan><tspan font-size="30" dy="-18">2</tspan></text>
<line x1="2167" y1="2187" x2="2617" y2="2187" stroke="#000" stroke-width="3"/>
<text class="t" x="2628" y="2202">&gt;</text>
<text class="t" x="2682" y="2167" textLength="300" lengthAdjust="spacingAndGlyphs">t̄r[<tspan class="bd">Σ</tspan><tspan>(</tspan><tspan class="it">v</tspan><tspan class="bd">Σ</tspan><tspan> + </tspan><tspan class="it bd">I</tspan><tspan>)</tspan><tspan font-size="30" dy="-18">−2</tspan><tspan dy="18">]</tspan></text>
<text class="t" x="2682" y="2231" textLength="300" lengthAdjust="spacingAndGlyphs">t̄r[<tspan class="bd">Σ</tspan><tspan>(</tspan><tspan class="it">v</tspan><tspan class="bd">Σ</tspan><tspan> + </tspan><tspan class="it bd">I</tspan><tspan>)</tspan><tspan font-size="30" dy="-18">−3</tspan><tspan dy="18">]</tspan></text>
<line x1="2679" y1="2187" x2="2989" y2="2187" stroke="#000" stroke-width="3"/>
<text class="t" x="2990" y="2205">,</text>
<text class="t" x="3335" y="2200" textLength="48" lengthAdjust="spacingAndGlyphs">(2)</text>
<text class="t" x="1792" y="2295" textLength="727" lengthAdjust="spacingAndGlyphs">where <tspan class="it">B</tspan> = <tspan class="it bd">ββ</tspan><tspan font-size="30" dy="-18">⊤</tspan><tspan dy="18">, then we have λ</tspan><tspan font-size="30" dy="-18">*</tspan><tspan dy="18"> &lt; 0.</tspan></text>
<text x="1792" y="2368" font-family="Liberation Serif, DejaVu Serif, serif" font-size="35" font-weight="bold" fill="#8c0f2f" textLength="189" lengthAdjust="spacingAndGlyphs">References:</text>
<line x1="1792" y1="2376" x2="1981" y2="2376" stroke="#8c0f2f" stroke-width="3"/>
<g class="rf">
<text class="rf" x="1792" y="2403" textLength="1527" lengthAdjust="spacingAndGlyphs">Trevor Hastie et al. “Surprises in high-dimensional ridgeless least squares interpolation”. <tspan class="rp">In: </tspan><tspan class="rp it">The Annals of Statistics</tspan><tspan class="rp"> 50.2 (2022), pp. 949–986</tspan></text>
<text class="rf" x="1792" y="2440" textLength="1591" lengthAdjust="spacingAndGlyphs">Edgar Dobriban and Stefan Wager. “High-dimensional asymptotics of prediction: Ridge regression and classification”. <tspan class="rp">In: </tspan><tspan class="rp it">The Annals of Statistics</tspan></text>
<text class="rf rp" x="1792" y="2475" textLength="272" lengthAdjust="spacingAndGlyphs" style="fill:#b2405f">46.1 (2018), pp. 247–279</text>
<text class="rf" x="1792" y="2512" textLength="1591" lengthAdjust="spacingAndGlyphs">Dominic Richards, Jaouad Mourtada, and Lorenzo Rosasco. “Asymptotics of ridge (less) regression under general source condition”. <tspan class="rp">In: </tspan><tspan class="rp it">Interna-</tspan></text>
<text class="rf" x="1792" y="2547" textLength="675" lengthAdjust="spacingAndGlyphs" style="fill:#b2405f"><tspan class="it">tional Conference on Artificial Intelligence and Statistics</tspan>. 2021</text>
<text class="rf" x="1792" y="2583" textLength="1591" lengthAdjust="spacingAndGlyphs">Denny Wu and Ji Xu. “On the Optimal Weighted ℓ<tspan font-size="16" dy="5">2</tspan><tspan dy="-5"> Regularization in Overparameterized Linear Regression”. </tspan><tspan class="rp">In: </tspan><tspan class="rp it">Advances in Neural Information</tspan></text>
<text class="rf" x="1792" y="2618" textLength="520" lengthAdjust="spacingAndGlyphs" style="fill:#b2405f"><tspan class="it">Processing Systems</tspan> 33 (2020), pp. 10112–10123</text>
</g>

<!-- ===== COLUMN 3 ===== -->
<text class="t" x="3483" y="562" textLength="1521" lengthAdjust="spacingAndGlyphs"><tspan class="rb">Theorem 4</tspan><tspan class="rd"> (covariate shift).</tspan> <tspan class="it">(Underparameterized)</tspan> When <tspan class="it">ϕ</tspan> &lt; 1, we have λ<tspan font-size="30" dy="-18">*</tspan><tspan dy="18"> ≥ 0.</tspan></text>
<text class="t" x="3483" y="621" textLength="1573" lengthAdjust="spacingAndGlyphs"><tspan class="it">(Overparameterized)</tspan> When <tspan class="it">ϕ</tspan> &gt; 1, if <tspan class="bd">Σ</tspan><tspan font-size="30" dy="9">0</tspan><tspan dy="-9"> = </tspan><tspan class="it bd">I</tspan><tspan> (estimation risk), then we have λ</tspan><tspan font-size="30" dy="-18">*</tspan><tspan dy="18"> ≥ 0.</tspan></text>
<text class="t" x="3483" y="677" textLength="896" lengthAdjust="spacingAndGlyphs"><tspan class="it">(Overparameterized)</tspan> When <tspan class="it">ϕ</tspan> &gt; 1, if <tspan class="bd">Σ</tspan> = <tspan class="it bd">I</tspan> and</text>
<text class="t" x="3842" y="767" textLength="308" lengthAdjust="spacingAndGlyphs">t̄r[<tspan class="bd">Σ</tspan><tspan font-size="30" dy="9">0</tspan><tspan dy="-9" class="it">B</tspan><tspan>] &gt; t̄r[</tspan><tspan class="bd">Σ</tspan><tspan font-size="30" dy="9">0</tspan><tspan dy="-9">]</tspan></text>
<text x="4158" y="800" font-family="Liberation Serif, DejaVu Serif, serif" font-size="120" font-weight="100">(</text>
<text class="t" x="4204" y="767" textLength="144" lengthAdjust="spacingAndGlyphs">t̄r[<tspan class="it">B</tspan>] +</text>
<text class="t" x="4362" y="736" textLength="245" lengthAdjust="spacingAndGlyphs">(1 + <tspan class="it">μ</tspan>(0, <tspan class="it">ϕ</tspan>))<tspan font-size="30" dy="-18">3</tspan></text>
<line x1="4359" y1="758" x2="4612" y2="758" stroke="#000" stroke-width="3"/>
<text class="t" x="4420" y="806" textLength="135" lengthAdjust="spacingAndGlyphs"><tspan class="it">μ</tspan>(0, <tspan class="it">ϕ</tspan>)<tspan font-size="30" dy="-18">3</tspan></text>
<text class="t" x="4612" y="770"><tspan class="it">σ</tspan><tspan font-size="30" dy="-18">2</tspan></text>
<text x="4660" y="800" font-family="Liberation Serif, DejaVu Serif, serif" font-size="120">)</text>
<text class="t" x="4700" y="778">,</text>
<text class="t" x="5025" y="770" textLength="46" lengthAdjust="spacingAndGlyphs">(3)</text>
<text class="t" x="3494" y="865" textLength="730" lengthAdjust="spacingAndGlyphs">where <tspan class="it">B</tspan> = <tspan class="it bd">ββ</tspan><tspan font-size="30" dy="-18">⊤</tspan><tspan dy="18">, then we have λ</tspan><tspan font-size="30" dy="-18">*</tspan><tspan dy="18"> &lt; 0.</tspan></text>
<text class="t" x="3483" y="921" textLength="1588" lengthAdjust="spacingAndGlyphs"><tspan class="rb">Theorem 5</tspan><tspan class="rd"> (signal shift).</tspan> <tspan class="it">(Underparameterized)</tspan> When <tspan class="it">ϕ</tspan> &lt; 1, if <tspan class="it">σ</tspan><tspan font-size="30" dy="-18">2</tspan><tspan dy="18"> = </tspan><tspan class="it">o</tspan><tspan>(1) and for all</tspan></text>
<text class="t" x="3483" y="980" textLength="845" lengthAdjust="spacingAndGlyphs"><tspan class="it">μ</tspan> ≥ 0, the following general alignment holds:</text>
<text class="t" x="3868" y="1048" textLength="826" lengthAdjust="spacingAndGlyphs">t̄r[<tspan class="it bd">B</tspan><tspan font-size="30" dy="9">0</tspan><tspan dy="-9" class="bd">Σ</tspan><tspan font-size="30" dy="-18">2</tspan><tspan dy="18">(</tspan><tspan class="bd">Σ</tspan><tspan> + </tspan><tspan class="it">μ</tspan><tspan class="it bd">I</tspan><tspan>)</tspan><tspan font-size="30" dy="-18">−2</tspan><tspan dy="18">] &gt; t̄r[</tspan><tspan class="it bd">B</tspan><tspan class="bd">Σ</tspan><tspan font-size="30" dy="-18">2</tspan><tspan dy="18">(</tspan><tspan class="bd">Σ</tspan><tspan> + </tspan><tspan class="it">μ</tspan><tspan class="it bd">I</tspan><tspan>)</tspan><tspan font-size="30" dy="-18">−2</tspan><tspan dy="18">],</tspan></text>
<text class="t" x="5025" y="1048" textLength="46" lengthAdjust="spacingAndGlyphs">(4)</text>
<text class="t" x="3483" y="1118" textLength="1036" lengthAdjust="spacingAndGlyphs">where <tspan class="it bd">B</tspan> = <tspan class="it bd">ββ</tspan><tspan font-size="30" dy="-18">⊤</tspan><tspan dy="18"> and </tspan><tspan class="it bd">B</tspan><tspan font-size="30" dy="9">0</tspan><tspan dy="-9"> = </tspan><tspan class="it bd">β</tspan><tspan font-size="30" dy="9">0</tspan><tspan dy="-9" class="it bd">β</tspan><tspan font-size="30" dy="-18">⊤</tspan><tspan dy="18">, then we have λ</tspan><tspan font-size="30" dy="-18">*</tspan><tspan dy="18"> &lt; 0.</tspan></text>
<text class="t" x="3483" y="1177" textLength="1588" lengthAdjust="spacingAndGlyphs"><tspan class="it">(Overparameterized)</tspan> When <tspan class="it">ϕ</tspan> &gt; 1, if the general alignment conditions (2) and (4)</text>
<text class="t" x="3483" y="1233" textLength="494" lengthAdjust="spacingAndGlyphs">hold, then we have λ<tspan font-size="30" dy="-18">*</tspan><tspan dy="18"> &lt; 0.</tspan></text>

<!-- OOD chart -->
<g>
<text class="dj" x="3820" y="1309" font-size="32">Type</text>
<line x1="3969" y1="1298" x2="4033" y2="1298" stroke="#4c72b0" stroke-width="9" stroke-dasharray="18,8"/>
<text class="dj" x="4059" y="1309" font-size="32">in-distribution</text>
<line x1="4352" y1="1298" x2="4412" y2="1298" stroke="#dd8452" stroke-width="9" stroke-linecap="round"/>
<text class="dj" x="4439" y="1309" font-size="32">out-of-distribution</text>
<text class="al m" x="3940" y="1367">Covariate shift</text>
<text class="al m" x="4729" y="1367">Regression shift</text>
<rect x="3610" y="1384" width="663" height="383" fill="#eaeaf2"/>
<rect x="4396" y="1384" width="663" height="383" fill="#eaeaf2"/>
<g stroke="#fff" stroke-width="2.5">
<line x1="3689" y1="1384" x2="3689" y2="1767"/><line x1="3812.5" y1="1384" x2="3812.5" y2="1767"/><line x1="3936" y1="1384" x2="3936" y2="1767"/><line x1="4059.5" y1="1384" x2="4059.5" y2="1767"/><line x1="4183" y1="1384" x2="4183" y2="1767"/>
<line x1="3610" y1="1486" x2="4273" y2="1486"/><line x1="3610" y1="1614" x2="4273" y2="1614"/><line x1="3610" y1="1742" x2="4273" y2="1742"/>
<line x1="4464" y1="1384" x2="4464" y2="1767"/><line x1="4590" y1="1384" x2="4590" y2="1767"/><line x1="4716" y1="1384" x2="4716" y2="1767"/><line x1="4842" y1="1384" x2="4842" y2="1767"/><line x1="4968" y1="1384" x2="4968" y2="1767"/>
<line x1="4396" y1="1421" x2="5059" y2="1421"/><line x1="4396" y1="1504.5" x2="5059" y2="1504.5"/><line x1="4396" y1="1588" x2="5059" y2="1588"/><line x1="4396" y1="1671.5" x2="5059" y2="1671.5"/><line x1="4396" y1="1755" x2="5059" y2="1755"/>
</g>
<line x1="3936" y1="1384" x2="3936" y2="1767" stroke="#606060" stroke-width="2.5" stroke-dasharray="10,6"/>
<line x1="4716" y1="1384" x2="4716" y2="1767" stroke="#606060" stroke-width="2.5" stroke-dasharray="10,6"/>
<g fill="none" stroke-linejoin="round">
<polyline points="3652,1409 3658,1486 3664,1550 3676.6,1614 3689,1652 3707.5,1684 3720,1697 3750.8,1723 3781.6,1734 3812.5,1742 3874,1747 3936,1751 3997.8,1753.5 4059.5,1755 4244.8,1755" stroke="#fff" stroke-width="11" stroke-dasharray="20,8"/>
<polyline points="3652,1409 3658,1486 3664,1550 3676.6,1614 3689,1652 3707.5,1684 3720,1697 3750.8,1723 3781.6,1734 3812.5,1742 3874,1747 3936,1751 3997.8,1753.5 4059.5,1755 4244.8,1755" stroke="#4c72b0" stroke-width="7" stroke-dasharray="20,8"/>
<polyline points="3652,1403 3658,1447.6 3664,1537 3670.5,1575.6 3676.6,1594.8 3689,1633 3701.3,1652 3720,1669 3750.8,1687 3781.6,1696 3812.5,1700 3855.7,1701 3936,1701 4059.5,1697 4244.8,1687" stroke="#fff" stroke-width="11" stroke-linecap="round"/>
<polyline points="3652,1403 3658,1447.6 3664,1537 3670.5,1575.6 3676.6,1594.8 3689,1633 3701.3,1652 3720,1669 3750.8,1687 3781.6,1696 3812.5,1700 3855.7,1701 3936,1701 4059.5,1697 4244.8,1687" stroke="#dd8452" stroke-width="7" stroke-linecap="round"/>
<polyline points="4426,1504.5 4429.4,1588 4432.5,1654.8 4435.7,1705 4445,1731.6 4464,1743.3 4489,1748.3 4527,1751 4590,1752.5 4747.5,1753.3 5031,1753" stroke="#fff" stroke-width="11" stroke-dasharray="20,8"/>
<polyline points="4426,1504.5 4429.4,1588 4432.5,1654.8 4435.7,1705 4445,1731.6 4464,1743.3 4489,1748.3 4527,1751 4590,1752.5 4747.5,1753.3 5031,1753" stroke="#4c72b0" stroke-width="7" stroke-dasharray="20,8"/>
<polyline points="4426,1404 4429.4,1488 4432.5,1555 4435.7,1596 4445,1610 4457.7,1618 4476.6,1621.4 4501.8,1623 4590,1619.7 4716,1613 4842,1606.4 5031,1599" stroke="#fff" stroke-width="11" stroke-linecap="round"/>
<polyline points="4426,1404 4429.4,1488 4432.5,1555 4435.7,1596 4445,1610 4457.7,1618 4476.6,1621.4 4501.8,1623 4590,1619.7 4716,1613 4842,1606.4 5031,1599" stroke="#dd8452" stroke-width="7" stroke-linecap="round"/>
</g>
<g stroke="#fff" stroke-width="2.5">
<path transform="translate(3856,1701) scale(1.05)" fill="#dd8452" d="M0,-18 L4.41,-6.07 L17.12,-5.56 L7.13,2.32 L10.58,14.56 L0,7.5 L-10.58,14.56 L-7.13,2.32 L-17.12,-5.56 L-4.41,-6.07 Z"/>
<path transform="translate(4059,1755) scale(1.05)" fill="#4c72b0" d="M0,-18 L4.41,-6.07 L17.12,-5.56 L7.13,2.32 L10.58,14.56 L0,7.5 L-10.58,14.56 L-7.13,2.32 L-17.12,-5.56 L-4.41,-6.07 Z"/>
<path transform="translate(4502,1623) scale(1.05)" fill="#dd8452" d="M0,-18 L4.41,-6.07 L17.12,-5.56 L7.13,2.32 L10.58,14.56 L0,7.5 L-10.58,14.56 L-7.13,2.32 L-17.12,-5.56 L-4.41,-6.07 Z"/>
<path transform="translate(4747,1753) scale(1.05)" fill="#4c72b0" d="M0,-18 L4.41,-6.07 L17.12,-5.56 L7.13,2.32 L10.58,14.56 L0,7.5 L-10.58,14.56 L-7.13,2.32 L-17.12,-5.56 L-4.41,-6.07 Z"/>
</g>
<g class="tk">
<text class="tk e" x="3597" y="1496">0.4</text><text class="tk e" x="3597" y="1624">0.3</text><text class="tk e" x="3597" y="1752">0.2</text>
<text class="tk m" x="3689" y="1813">−0.04</text><text class="tk m" x="3812" y="1813">−0.02</text><text class="tk m" x="3936" y="1813">0.00</text><text class="tk m" x="4059" y="1813">0.02</text><text class="tk m" x="4183" y="1813">0.04</text>
<text class="tk e" x="4384" y="1431">2.0</text><text class="tk e" x="4384" y="1514">1.5</text><text class="tk e" x="4384" y="1598">1.0</text><text class="tk e" x="4384" y="1681">0.5</text><text class="tk e" x="4384" y="1765">0.0</text>
<text class="tk m" x="4464" y="1813">−0.04</text><text class="tk m" x="4590" y="1813">−0.02</text><text class="tk m" x="4716" y="1813">0.00</text><text class="tk m" x="4842" y="1813">0.02</text><text class="tk m" x="4968" y="1813">0.04</text>
</g>
<text class="al m" x="3940" y="1858">Ridge penalty <tspan font-style="italic">λ</tspan></text>
<text class="al m" x="4729" y="1858">Ridge penalty <tspan font-style="italic">λ</tspan></text>
<text class="al" transform="translate(3520,1700) rotate(-90)" x="0" y="0" font-size="34" textLength="251" lengthAdjust="spacing">Prediction risk</text>
</g>
<text class="cap" x="3530" y="1927" textLength="1492" lengthAdjust="spacingAndGlyphs">Covariate and regression shift can lead to negative optimal regularization in both</text>
<text class="cap" x="3788" y="1982" textLength="969" lengthAdjust="spacingAndGlyphs">overparameterized and underparameterized regimes.</text>

<!-- Monotonicity: heatmap -->
<g>
<rect x="3615" y="2194" width="516" height="465" fill="#eaeaf2"/>
<path d="M3668,2194 L3671,2260 L3674,2303 L3684,2345 L3696,2369 L3716,2390 L3737,2402 L3767,2415 L3767,2434 L3755,2435 L3728,2445 L3696,2468 L3673,2502 L3654,2535 L3632,2601 L3614,2657 L4131,2657 L4131,2194 Z" fill="url(#hv)"/>
<rect x="3930" y="2194" width="201" height="463" fill="url(#hr)" mask="url(#m1)"/>
<rect x="4062" y="2470" width="69" height="187" fill="url(#hb)" mask="url(#m2)"/>
<path d="M3668,2194 L3671,2260 L3674,2303 L3684,2345 L3696,2369 L3716,2390 L3737,2402 L3767,2415" fill="none" stroke="#5e4fa2" stroke-width="2.5"/>
<path d="M3767,2434 L3755,2435 L3728,2445 L3696,2468 L3673,2502 L3654,2535 L3632,2601 L3614,2657" fill="none" stroke="#8fd0a0" stroke-width="3"/>
<line x1="4062" y1="2194" x2="4062" y2="2657" stroke="#fff" stroke-width="7"/>
<line x1="4062" y1="2194" x2="4062" y2="2657" stroke="#f99170" stroke-width="3"/>
<line x1="3767" y1="2506" x2="3767" y2="2657" stroke="#fff" stroke-width="7"/>
<line x1="3767" y1="2506" x2="3767" y2="2657" stroke="#c0508f" stroke-width="3"/>
<g fill="none" stroke-linejoin="round" stroke-linecap="round">
<polyline points="3794,2194 3829,2269 3850,2310 3870,2352 3890,2390 3907,2422 3920,2448 3925,2462 3921,2482 3905,2492 3893,2495 3824,2502 3767,2505" stroke="#fff" stroke-width="11"/>
<polyline points="3794,2194 3829,2269 3850,2310 3870,2352 3890,2390 3907,2422 3920,2448 3925,2462 3921,2482 3905,2492 3893,2495 3824,2502 3767,2505" stroke="#8a3a86" stroke-width="7"/>
<polyline points="3767,2507 3719,2508 3691,2518 3673,2541 3654,2578 3636,2618 3622,2657" stroke="#fff" stroke-width="11"/>
<polyline points="3767,2507 3719,2508 3691,2518 3673,2541 3654,2578 3636,2618 3622,2657" stroke="#6a3d9a" stroke-width="7"/>
</g>
<rect x="4162" y="2194" width="24" height="465" fill="url(#cb)"/>
<g stroke="#262626" stroke-width="2">
<line x1="4186" y1="2261" x2="4194" y2="2261"/><line x1="4186" y1="2343" x2="4194" y2="2343"/><line x1="4186" y1="2425" x2="4194" y2="2425"/><line x1="4186" y1="2506" x2="4194" y2="2506"/><line x1="4186" y1="2588" x2="4194" y2="2588"/>
</g>
<g class="tk">
<text class="tk" x="4200" y="2271" font-size="27">0.5</text><text class="tk" x="4200" y="2353" font-size="27">0.4</text><text class="tk" x="4200" y="2435" font-size="27">0.3</text><text class="tk" x="4200" y="2516" font-size="27">0.2</text><text class="tk" x="4200" y="2598" font-size="27">0.1</text>
<text class="tk e" x="3601" y="2204" font-size="27">0.1</text><text class="tk e" x="3601" y="2436" font-size="27">1</text><text class="tk e" x="3601" y="2668" font-size="27">10</text>
<text class="tk m" x="3617" y="2692" font-size="27">-3</text><text class="tk m" x="3767" y="2692" font-size="27">0</text><text class="tk m" x="3963" y="2692" font-size="27">0.1</text><text class="tk m" x="4062" y="2692" font-size="27">1</text><text class="tk m" x="4129" y="2692" font-size="27">10</text>
</g>
<text class="al m" x="3871" y="2732">Ridge penalty <tspan font-style="italic">λ</tspan></text>
<text class="al" transform="translate(3553,2595) rotate(-90)" x="0" y="0" font-size="34" textLength="337" lengthAdjust="spacing">Data aspect ratio <tspan font-style="italic">ϕ</tspan></text>
</g>
<!-- Monotonicity: line plot -->
<g>
<rect x="4382" y="2194" width="646" height="465" fill="#eaeaf2"/>
<g stroke="#fff" stroke-width="2.5">
<line x1="4410" y1="2194" x2="4410" y2="2659"/><line x1="4705" y1="2194" x2="4705" y2="2659"/><line x1="5000" y1="2194" x2="5000" y2="2659"/>
<line x1="4382" y1="2647" x2="5028" y2="2647"/><line x1="4382" y1="2574.7" x2="5028" y2="2574.7"/><line x1="4382" y1="2502.4" x2="5028" y2="2502.4"/><line x1="4382" y1="2430.1" x2="5028" y2="2430.1"/><line x1="4382" y1="2357.8" x2="5028" y2="2357.8"/><line x1="4382" y1="2285.5" x2="5028" y2="2285.5"/><line x1="4382" y1="2213.2" x2="5028" y2="2213.2"/>
</g>
<g fill="none" stroke-linejoin="round" stroke-linecap="round">
<polyline points="4410,2638.3 4550.8,2635.4 4616.2,2629.6 4659.3,2621.7 4705,2605 4738.6,2582 4773,2549.4 4793.8,2527.7 4845.7,2465 4911.2,2372 4954.3,2303.6 5000,2238.5" stroke="#5c3a92" stroke-width="10"/>
<polyline points="4410,2638.3 4550.8,2635.4 4616.2,2629.6 4659.3,2621.7 4705,2605 4738.6,2582 4773,2549.4 4793.8,2527.7 4845.7,2462.6 4911.2,2365 4954.3,2292.7 5000,2223.3" stroke="#b84f8f" stroke-width="5"/>
<polyline points="4410,2566 4498.8,2561.7 4550.8,2556.6 4616.2,2544.3 4659.3,2529.9 4705,2513.2 4757,2477.1 4793.8,2444.6 4845.7,2386.7 4911.2,2314.4 4954.3,2256.6 5000,2215.4" stroke="#f99170" stroke-width="5"/>
</g>
<rect x="4398" y="2209" width="237" height="218" rx="6" fill="#eaeaf2" fill-opacity="0.85" stroke="#cfcfd8" stroke-width="2"/>
<text class="dj" x="4425" y="2250" font-size="32">min <tspan font-style="italic">R</tspan>(<tspan font-style="italic">ϕ</tspan>, <tspan font-style="italic">λ</tspan>)</text>
<text class="dj" x="4425" y="2276" font-size="20" font-style="italic">λ ≥ ν</text>
<line x1="4412" y1="2303" x2="4476" y2="2303" stroke="#5c3a92" stroke-width="10" stroke-linecap="round"/>
<text class="dj" x="4502" y="2314" font-size="32" font-style="italic">ν<tspan font-style="normal"> = λ</tspan><tspan font-size="22" dy="8" font-style="normal">min</tspan></text>
<line x1="4412" y1="2349" x2="4476" y2="2349" stroke="#b84f8f" stroke-width="8" stroke-linecap="round"/>
<text class="dj" x="4502" y="2360" font-size="32" font-style="italic">ν<tspan font-style="normal"> = 0</tspan></text>
<line x1="4412" y1="2395" x2="4476" y2="2395" stroke="#f99170" stroke-width="8" stroke-linecap="round"/>
<text class="dj" x="4502" y="2406" font-size="32" font-style="italic">ν<tspan font-style="normal"> = 1.0</tspan></text>
<g class="tk">
<text class="tk e" x="4369" y="2223" font-size="27">0.6</text><text class="tk e" x="4369" y="2295" font-size="27">0.5</text><text class="tk e" x="4369" y="2367" font-size="27">0.4</text><text class="tk e" x="4369" y="2440" font-size="27">0.3</text><text class="tk e" x="4369" y="2512" font-size="27">0.2</text><text class="tk e" x="4369" y="2584" font-size="27">0.1</text><text class="tk e" x="4369" y="2657" font-size="27">0.0</text>
<text class="tk m" x="4410" y="2692" font-size="27">0.1</text><text class="tk m" x="4705" y="2692" font-size="27">1.0</text><text class="tk m" x="5000" y="2692" font-size="27">10.0</text>
</g>
<text class="al m" x="4705" y="2732">Data aspect ratio <tspan font-style="italic">ϕ</tspan></text>
<text class="al" transform="translate(4316,2475) rotate(-90)" x="0" y="0" font-size="34" textLength="94" lengthAdjust="spacing">Value</text>
</g>
<text class="cap" x="3489" y="2792" textLength="1572" lengthAdjust="spacingAndGlyphs">Ridge regression optimized over <tspan class="it">λ</tspan> ≥ <tspan class="it">ν</tspan> for different thresholds <tspan class="it">ν</tspan> has monotonic risk.</text>
</svg>
</body></html>
